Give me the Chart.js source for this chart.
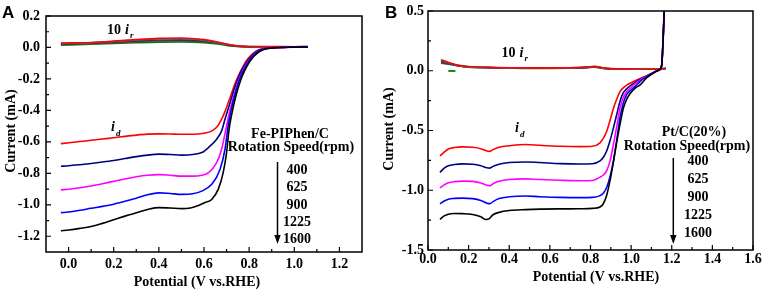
<!DOCTYPE html>
<html><head><meta charset="utf-8">
<script src="https://cdn.jsdelivr.net/npm/chart.js@4.4.1/dist/chart.umd.min.js"></script>
<style>
html,body{margin:0;padding:0;background:#fff;width:765px;height:291px;overflow:hidden}
#wa{position:absolute;left:0;top:0;width:383px;height:291px}
#wb{position:absolute;left:383px;top:0;width:382px;height:291px}
canvas{display:block}
</style></head><body>
<div id="wa"><canvas id="ca" width="383" height="291"></canvas></div>
<div id="wb"><canvas id="cb" width="382" height="291"></canvas></div>
<script>
// ---------- Panel A : Fe-PIPhen/C ----------
const potA400 = [-0.034,0.0,0.05,0.1,0.15,0.2,0.25,0.3,0.35,0.4,0.45,0.5,0.55,0.6,0.635,0.66,0.678,0.695,0.71,0.725,0.74,0.759,0.775,0.79,0.818,0.847,0.9,0.95,1.0,1.06];
const curA400 = [-0.611,-0.606,-0.598,-0.59,-0.582,-0.574,-0.565,-0.557,-0.551,-0.549,-0.55,-0.552,-0.552,-0.545,-0.53,-0.5,-0.456,-0.40,-0.34,-0.28,-0.22,-0.16,-0.115,-0.08,-0.038,-0.013,-0.003,0.0,0.002,0.003];
const potA625 = [-0.034,0.0,0.05,0.1,0.15,0.2,0.25,0.3,0.35,0.4,0.45,0.5,0.55,0.59,0.62,0.656,0.678,0.693,0.705,0.72,0.735,0.75,0.765,0.79,0.818,0.847,0.9,1.0,1.06];
const curA625 = [-0.755,-0.752,-0.745,-0.737,-0.728,-0.718,-0.706,-0.694,-0.684,-0.678,-0.68,-0.684,-0.68,-0.668,-0.636,-0.583,-0.53,-0.456,-0.40,-0.33,-0.26,-0.2,-0.15,-0.09,-0.042,-0.015,-0.003,0.002,0.003];
const potA900 = [-0.034,0.0,0.05,0.1,0.15,0.2,0.25,0.3,0.35,0.4,0.45,0.5,0.55,0.59,0.62,0.656,0.678,0.70,0.715,0.73,0.745,0.76,0.78,0.8,0.83,0.86,0.9,1.0,1.06];
const curA900 = [-0.905,-0.901,-0.892,-0.88,-0.866,-0.851,-0.836,-0.822,-0.812,-0.808,-0.812,-0.818,-0.818,-0.812,-0.796,-0.732,-0.647,-0.499,-0.40,-0.32,-0.245,-0.185,-0.125,-0.08,-0.035,-0.012,-0.003,0.002,0.003];
const potA1225 = [-0.034,0.0,0.05,0.1,0.15,0.2,0.25,0.3,0.35,0.4,0.45,0.5,0.55,0.59,0.634,0.671,0.693,0.707,0.72,0.735,0.75,0.765,0.785,0.805,0.83,0.86,0.9,1.0,1.06];
const curA1225 = [-1.05,-1.046,-1.035,-1.022,-1.01,-0.996,-0.978,-0.958,-0.936,-0.924,-0.928,-0.934,-0.93,-0.913,-0.87,-0.775,-0.647,-0.499,-0.40,-0.31,-0.235,-0.175,-0.12,-0.075,-0.038,-0.013,-0.003,0.002,0.003];
const potA1600 = [-0.034,0.0,0.05,0.1,0.15,0.2,0.25,0.3,0.35,0.4,0.45,0.5,0.54,0.575,0.605,0.634,0.663,0.685,0.70,0.711,0.725,0.74,0.755,0.77,0.79,0.81,0.835,0.865,0.9,1.0,1.06];
const curA1600 = [-1.165,-1.16,-1.15,-1.138,-1.118,-1.095,-1.072,-1.05,-1.03,-1.018,-1.02,-1.024,-1.02,-1.005,-0.985,-0.966,-0.902,-0.796,-0.668,-0.52,-0.41,-0.315,-0.24,-0.18,-0.12,-0.075,-0.038,-0.013,-0.004,0.002,0.003];
// ring currents (10 i_r)
const potRingA = [-0.034,0.1,0.2,0.3,0.4,0.5,0.6,0.65,0.7,0.75,0.8,0.9,1.0,1.06];
const ringA400  = [0.028,0.032,0.040,0.050,0.058,0.060,0.050,0.038,0.022,0.010,0.006,0.006,0.005,0.006];
const ringA625  = [0.025,0.030,0.038,0.047,0.054,0.055,0.046,0.035,0.020,0.009,0.006,0.005,0.005,0.006];
const ringA900  = [0.022,0.028,0.034,0.042,0.047,0.048,0.042,0.032,0.018,0.008,0.005,0.005,0.005,0.005];
const ringA1225 = [0.019,0.026,0.031,0.037,0.041,0.042,0.037,0.028,0.016,0.007,0.005,0.005,0.005,0.005];
const ringA1600 = [0.014,0.020,0.025,0.030,0.034,0.035,0.031,0.024,0.013,0.006,0.004,0.004,0.004,0.005];
const xTicksA = [0.0,0.2,0.4,0.6,0.8,1.0,1.2];
const xMinorA = [0.1,0.3,0.5,0.7,0.9,1.1];
const yTicksA = [-1.2,-1.0,-0.8,-0.6,-0.4,-0.2,0.0,0.2];
const yMinorA = [-1.1,-0.9,-0.7,-0.5,-0.3,-0.1,0.1];

// ---------- Panel B : Pt/C(20%) ----------
const potB400 = [0.059,0.08,0.1,0.13,0.17,0.22,0.26,0.29,0.305,0.32,0.35,0.4,0.48,0.55,0.65,0.75,0.81,0.847,0.865,0.88,0.897,0.913,0.93,0.945,0.96,0.978,1.0,1.027,1.05,1.076,1.109,1.134,1.15,1.158,1.165];
const curB400 = [-0.713,-0.68,-0.655,-0.642,-0.637,-0.64,-0.652,-0.672,-0.675,-0.66,-0.64,-0.628,-0.617,-0.624,-0.632,-0.635,-0.632,-0.603,-0.56,-0.506,-0.41,-0.313,-0.235,-0.175,-0.145,-0.12,-0.1,-0.078,-0.06,-0.042,-0.014,0.005,0.046,0.295,0.62];
const potB625 = [0.059,0.08,0.1,0.13,0.17,0.22,0.26,0.29,0.305,0.32,0.35,0.4,0.48,0.55,0.65,0.75,0.81,0.847,0.865,0.88,0.897,0.913,0.93,0.945,0.96,0.978,1.0,1.027,1.05,1.076,1.109,1.134,1.15,1.158,1.165];
const curB625 = [-0.85,-0.815,-0.795,-0.785,-0.779,-0.782,-0.795,-0.812,-0.815,-0.8,-0.782,-0.768,-0.763,-0.768,-0.777,-0.78,-0.778,-0.755,-0.72,-0.67,-0.58,-0.478,-0.36,-0.257,-0.19,-0.152,-0.12,-0.09,-0.068,-0.047,-0.016,0.004,0.04,0.28,0.6];
const potB900 = [0.059,0.08,0.1,0.13,0.17,0.22,0.26,0.29,0.305,0.32,0.35,0.4,0.48,0.55,0.65,0.75,0.81,0.847,0.865,0.88,0.897,0.913,0.93,0.945,0.96,0.978,1.0,1.027,1.05,1.076,1.109,1.134,1.15,1.158,1.165];
const curB900 = [-0.98,-0.955,-0.938,-0.928,-0.924,-0.926,-0.94,-0.958,-0.962,-0.945,-0.925,-0.91,-0.905,-0.91,-0.916,-0.92,-0.918,-0.89,-0.87,-0.836,-0.75,-0.616,-0.46,-0.313,-0.23,-0.175,-0.14,-0.1,-0.072,-0.05,-0.017,0.004,0.04,0.28,0.6];
const potB1225 = [0.059,0.08,0.1,0.13,0.17,0.22,0.26,0.29,0.305,0.32,0.35,0.4,0.48,0.55,0.65,0.75,0.81,0.847,0.865,0.88,0.897,0.913,0.93,0.945,0.96,0.978,1.0,1.027,1.05,1.076,1.109,1.134,1.15,1.158,1.165];
const curB1225 = [-1.113,-1.09,-1.075,-1.068,-1.066,-1.07,-1.085,-1.108,-1.112,-1.095,-1.07,-1.055,-1.048,-1.054,-1.06,-1.062,-1.06,-1.045,-1.02,-0.975,-0.88,-0.754,-0.57,-0.395,-0.28,-0.2,-0.16,-0.12,-0.08,-0.052,-0.018,0.004,0.04,0.28,0.6];
const potB1600 = [0.059,0.08,0.1,0.13,0.17,0.22,0.26,0.285,0.3,0.32,0.35,0.4,0.48,0.55,0.65,0.75,0.81,0.847,0.863,0.88,0.896,0.913,0.93,0.945,0.962,0.978,0.995,1.02,1.043,1.076,1.109,1.134,1.15,1.158,1.165];
const curB1600 = [-1.243,-1.215,-1.2,-1.195,-1.196,-1.203,-1.222,-1.245,-1.24,-1.205,-1.185,-1.17,-1.162,-1.158,-1.156,-1.155,-1.152,-1.14,-1.113,-1.04,-0.92,-0.76,-0.589,-0.45,-0.313,-0.24,-0.19,-0.145,-0.12,-0.06,-0.02,0.003,0.04,0.28,0.6];
const potRingB = [0.064,0.1,0.15,0.2,0.3,0.4,0.5,0.6,0.7,0.78,0.82,0.86,0.9,1.0,1.1,1.17];
const ringB400  = [0.093,0.070,0.045,0.035,0.028,0.025,0.024,0.024,0.025,0.030,0.037,0.025,0.018,0.015,0.013,0.018];
const ringB625  = [0.088,0.067,0.044,0.034,0.027,0.024,0.023,0.023,0.024,0.029,0.035,0.024,0.017,0.014,0.012,0.018];
const ringB900  = [0.080,0.063,0.043,0.033,0.026,0.023,0.022,0.022,0.023,0.028,0.033,0.023,0.016,0.014,0.012,0.018];
const ringB1225 = [0.072,0.059,0.042,0.032,0.026,0.023,0.021,0.021,0.022,0.027,0.031,0.022,0.016,0.013,0.012,0.019];
const ringB1600 = [0.064,0.055,0.040,0.030,0.025,0.022,0.020,0.020,0.021,0.026,0.030,0.020,0.015,0.013,0.012,0.020];
const dashPotB = [0.10,0.135];
const dashCurB = [-0.002,-0.002];
const xTicksB = [0.0,0.2,0.4,0.6,0.8,1.0,1.2,1.4,1.6];
const xMinorB = [0.1,0.3,0.5,0.7,0.9,1.1,1.3,1.5];
const yTicksB = [-1.5,-1.0,-0.5,0.0,0.5];
const yMinorB = [-1.25,-0.75,-0.25,0.25];

const diskColors = {c400:'#ff0000', c625:'#000080', c900:'#ff00ff', c1225:'#0000ff', c1600:'#000000'};
const ringColors = ['#ff0000','#2a8a8a','#1c2c7c','#6b4423','#008000'];

function ser(xs, ys, color, w){
  return {data: xs.map((x,i)=>({x:x, y:ys[i]})), borderColor: color, backgroundColor: color,
    borderWidth: w, showLine: true, pointRadius: 0, fill: false, cubicInterpolationMode: 'monotone'};
}
const tickFont = {family:'"Liberation Serif", "Times New Roman", serif', size:14, weight:'bold', lineHeight:1};
const SERIF = '"Liberation Serif", "Times New Roman", serif';

const framePlugin = {
  id: 'frame',
  afterDatasetsDraw(chart, args, o){
    const {ctx, chartArea:a} = chart;
    const x = chart.scales.x, y = chart.scales.y;
    ctx.save();
    ctx.strokeStyle = '#000';
    ctx.lineWidth = 1.5;
    ctx.strokeRect(a.left, a.top, a.right - a.left, a.bottom - a.top);
    ctx.lineWidth = 1.2;
    ctx.beginPath();
    o.xMajor.forEach(v=>{const p=x.getPixelForValue(v); ctx.moveTo(p,a.bottom); ctx.lineTo(p,a.bottom-5);});
    o.xMinor.forEach(v=>{const p=x.getPixelForValue(v); ctx.moveTo(p,a.bottom); ctx.lineTo(p,a.bottom-3);});
    o.yMajor.forEach(v=>{const p=y.getPixelForValue(v); ctx.moveTo(a.left,p); ctx.lineTo(a.left+5,p);});
    o.yMinor.forEach(v=>{const p=y.getPixelForValue(v); ctx.moveTo(a.left,p); ctx.lineTo(a.left+3,p);});
    ctx.stroke();
    ctx.restore();
  },
  afterDraw(chart, args, o){
    const ctx = chart.ctx;
    ctx.save();
    ctx.fillStyle = '#000';
    ctx.textBaseline = 'alphabetic';
    // panel letter
    ctx.font = 'bold 17px "Liberation Sans", Arial, sans-serif';
    ctx.textAlign = 'left';
    ctx.fillText(o.letter[0], o.letter[1], o.letter[2]);
    // axis titles
    ctx.font = 'bold 14px ' + SERIF;
    ctx.textAlign = 'center';
    ctx.fillText('Potential (V vs.RHE)', o.xTitle[0], o.xTitle[1]);
    ctx.save();
    ctx.translate(o.yTitle[0], o.yTitle[1]);
    ctx.rotate(-Math.PI/2);
    ctx.textBaseline = 'middle';
    ctx.fillText('Current (mA)', 0, 0);
    ctx.restore();
    // 10 i_r
    ctx.textAlign = 'left';
    ctx.font = 'bold 14px ' + SERIF;
    ctx.fillText('10', o.ir[0], o.ir[1]);
    ctx.font = 'bold italic 14px ' + SERIF;
    ctx.fillText('i', o.ir[0]+18, o.ir[1]);
    ctx.font = 'bold italic 9px ' + SERIF;
    ctx.fillText('r', o.ir[0]+23, o.ir[1]+4);
    // i_d
    ctx.font = 'bold italic 14px ' + SERIF;
    ctx.fillText('i', o.id[0], o.id[1]);
    ctx.font = 'bold italic 9px ' + SERIF;
    ctx.fillText('d', o.id[0]+5, o.id[1]+5);
    // catalyst + legend text
    ctx.font = 'bold 14px ' + SERIF;
    ctx.textAlign = 'center';
    ctx.fillText(o.name, o.nameX, o.nameY);
    ctx.fillText('Rotation Speed(rpm)', o.rsX, o.rsY);
    o.speeds.forEach((s,i)=> ctx.fillText(s, o.spX, o.spY0 + i*o.spDy));
    // arrow
    ctx.strokeStyle = '#000';
    ctx.lineWidth = 1.5;
    ctx.beginPath();
    ctx.moveTo(o.arrow[0], o.arrow[1]);
    ctx.lineTo(o.arrow[0], o.arrow[2]-7);
    ctx.stroke();
    ctx.beginPath();
    ctx.moveTo(o.arrow[0]-3.2, o.arrow[2]-9);
    ctx.lineTo(o.arrow[0]+3.2, o.arrow[2]-9);
    ctx.lineTo(o.arrow[0], o.arrow[2]);
    ctx.closePath();
    ctx.fill();
    ctx.restore();
  }
};

const speedLabels = ['400','625','900','1225','1600'];

function makeChart(id, datasets, sc, frame, pad, yW, xH, yPad, xPad){
  return new Chart(document.getElementById(id), {
    type: 'scatter',
    data: {datasets: datasets},
    options: {
      responsive: false, animation: false, devicePixelRatio: 1,
      layout: {padding: pad},
      plugins: {legend:{display:false}, tooltip:{enabled:false}, title:{display:false}, frame: frame},
      scales: {
        x: {type:'linear', min: sc.xmin, max: sc.xmax,
            afterBuildTicks: s=>{ s.ticks = sc.xt.map(v=>({value:v})); },
            afterFit: s=>{ s.height = xH; },
            grid:{display:false, drawTicks:false}, border:{display:false},
            ticks:{font: tickFont, color:'#000', padding: xPad, maxRotation:0, autoSkip:false,
                   callback: v=>Number(v).toFixed(1)}},
        y: {type:'linear', min: sc.ymin, max: sc.ymax,
            afterBuildTicks: s=>{ s.ticks = sc.yt.map(v=>({value:v})); },
            afterFit: s=>{ s.width = yW; },
            grid:{display:false, drawTicks:false}, border:{display:false},
            ticks:{font: tickFont, color:'#000', padding: yPad, autoSkip:false,
                   callback: v=>Number(v).toFixed(1)}}
      }
    },
    plugins: [framePlugin]
  });
}

const W = 1.6;
const dsA = [
  ser(potA1600, curA1600, diskColors.c1600, W),
  ser(potA1225, curA1225, diskColors.c1225, W),
  ser(potA900, curA900, diskColors.c900, W),
  ser(potA625, curA625, diskColors.c625, W),
  ser(potA400, curA400, diskColors.c400, W),
  ser(potRingA, ringA400, ringColors[0], W),
  ser(potRingA, ringA625, ringColors[1], W),
  ser(potRingA, ringA900, ringColors[2], W),
  ser(potRingA, ringA1225, ringColors[3], W),
  ser(potRingA, ringA1600, ringColors[4], W)
];
makeChart('ca', dsA,
  {xmin:-0.1, xmax:1.3, ymin:-1.3, ymax:0.2, xt:xTicksA, yt:yTicksA},
  {xMajor:xTicksA, xMinor:xMinorA, yMajor:yTicksA, yMinor:yMinorA,
   letter:['A',2,18], xTitle:[197,286], yTitle:[11,131],
   ir:[107,34], id:[111,131], name:'Fe-PIPhen/C', nameX:290, nameY:138,
   rsX:291, rsY:151, speeds:speedLabels, spX:297, spY0:174, spDy:17.3,
   arrow:[277.5,162,244]},
  {left:0, top:16, right:21, bottom:0}, 46, 39, 6, 5);

const dsB = [
  ser(potB1600, curB1600, diskColors.c1600, W),
  ser(potB1225, curB1225, diskColors.c1225, W),
  ser(potB900, curB900, diskColors.c900, W),
  ser(potB625, curB625, diskColors.c625, W),
  ser(potB400, curB400, diskColors.c400, W),
  ser(potRingB, ringB400, ringColors[0], W),
  ser(potRingB, ringB625, ringColors[1], W),
  ser(potRingB, ringB900, ringColors[2], W),
  ser(potRingB, ringB1225, ringColors[3], W),
  ser(potRingB, ringB1600, ringColors[4], W),
  ser(dashPotB, dashCurB, ringColors[4], 1.8)
];
makeChart('cb', dsB,
  {xmin:0, xmax:1.6, ymin:-1.5, ymax:0.5, xt:xTicksB, yt:yTicksB},
  {xMajor:xTicksB, xMinor:xMinorB, yMajor:yTicksB, yMinor:yMinorB,
   letter:['B',2,18], xTitle:[213,281], yTitle:[6,129],
   ir:[118.5,56.5], id:[132,131.5], name:'Pt/C(20%)', nameX:311, nameY:136,
   rsX:304, rsY:150, speeds:speedLabels, spX:315, spY0:165, spDy:17.9,
   arrow:[290.3,158,244]},
  {left:0, top:8, right:12, bottom:0}, 45, 41, 4, 2);
</script></body></html>
